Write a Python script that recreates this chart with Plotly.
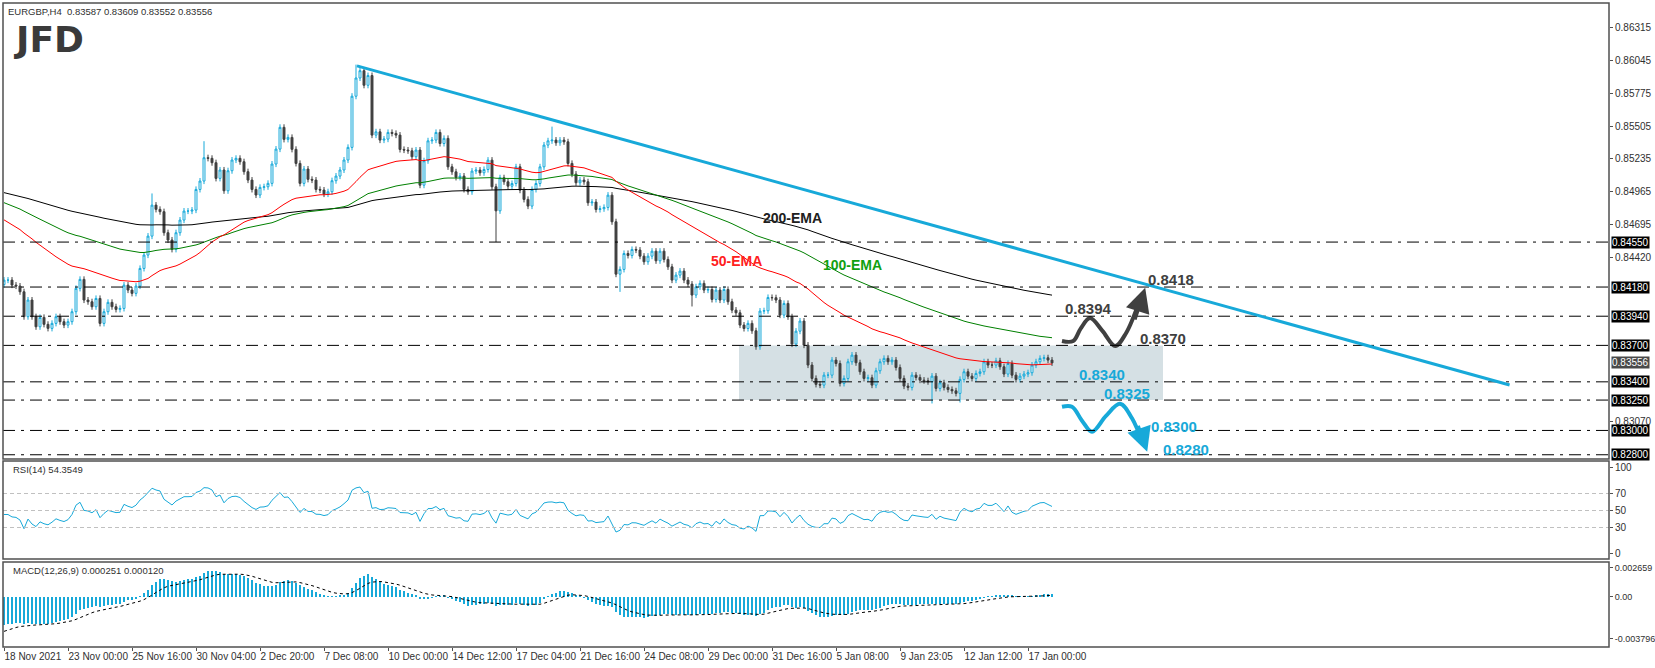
import plotly.graph_objects as go

# ---------------- data ----------------
closes = [
0.84237,0.84237,0.84196,0.84188,0.84141,0.83936,0.84073,0.83936,0.83853,0.83930,
0.83873,0.83840,0.83881,0.83936,0.83895,0.83867,0.83895,0.83977,0.84169,0.84243,
0.84073,0.84059,0.84018,0.84086,0.83881,0.83977,0.84054,0.84018,0.83996,0.84004,
0.84196,0.84155,0.84128,0.84188,0.84333,0.84443,0.84599,0.84854,0.84819,0.84800,
0.84627,0.84567,0.84490,0.84627,0.84731,0.84805,0.84805,0.84813,0.84983,0.85052,
0.85244,0.85239,0.85203,0.85074,0.85143,0.84972,0.85137,0.85225,0.85239,0.85211,
0.85129,0.85060,0.84983,0.84937,0.85000,0.85005,0.85033,0.85192,0.85315,0.85494,
0.85395,0.85411,0.85313,0.85197,0.85033,0.85151,0.85066,0.85060,0.84983,0.84978,
0.84945,0.84964,0.85055,0.85093,0.85143,0.85225,0.85329,0.85750,0.85900,0.85960,
0.85840,0.85920,0.85430,
0.85457,0.85389,0.85397,0.85452,0.85444,0.85430,0.85312,0.85307,0.85301,0.85252,
0.85307,0.85018,0.85219,0.85383,0.85389,0.85452,0.85361,0.85403,0.85169,0.85128,
0.85082,0.85093,0.84983,0.84964,0.85134,0.85142,0.85120,0.85147,0.85224,0.85005,
0.84807,0.85079,0.85046,0.85010,0.85032,0.85169,0.84977,0.84901,0.84846,0.84983,
0.85032,0.85169,0.85348,0.85383,0.85389,0.85367,0.85389,0.85375,0.85197,0.85109,
0.85038,0.85060,0.85046,0.84873,0.84879,0.84818,0.84824,0.84835,0.84936,0.84717,
0.84286,0.84325,0.84456,0.84440,0.84489,0.84484,0.84434,0.84388,0.84434,0.84475,
0.84396,0.84475,0.84407,0.84346,0.84237,0.84278,0.84311,0.84237,0.84204,
0.84114,0.84182,0.84210,0.84155,0.84160,0.84078,0.84155,0.84073,0.84160,0.84059,
0.83990,0.83968,0.83867,0.83839,0.83881,0.83820,0.83689,0.83982,0.83985,0.84094,
0.84092,0.84073,0.83949,0.84045,0.83935,0.83711,0.83817,0.83900,0.83702,0.83538,
0.83428,0.83379,0.83373,0.83455,0.83455,0.83579,0.83551,0.83387,0.83428,0.83565,
0.83620,0.83557,0.83483,0.83428,0.83434,0.83373,0.83491,0.83565,0.83593,0.83565,
0.83579,0.83518,0.83428,0.83365,0.83354,0.83455,0.83436,0.83414,0.83409,0.83401,
0.83447,0.83346,0.83392,0.83354,0.83337,0.83326,0.83305,0.83420,0.83483,0.83447,
0.83428,0.83469,0.83483,0.83565,0.83538,0.83538,0.83573,0.83524,0.83464,0.83551,
0.83455,0.83420,0.83447,0.83464,0.83475,0.83538,0.83565,0.83593,0.83598,0.83579,
0.83556]
first_open = 0.84200
wick = 0.00025
high_spikes = {37: 0.84950, 50: 0.85380, 88: 0.86010, 137: 0.85500}
low_spikes = {123: 0.84550, 154: 0.84140, 172: 0.84020, 232: 0.83222, 239: 0.83230}

ema_seeds = {"200": 0.84964, "100": 0.84887, "50": 0.84753}
macd_seeds = {"ema12": 0.84420, "ema26": 0.84680, "signal": -0.00330}
rsi_seeds = {"gain": 0.00022, "loss": 0.00030}

levels = [0.84550, 0.84180, 0.83940, 0.83700, 0.83400, 0.83250, 0.83000, 0.82800]
level_labels = ["0.84550", "0.84180", "0.83940", "0.83700", "0.83400", "0.83250", "0.83000", "0.82800"]
price_ticks = [0.86315, 0.86045, 0.85775, 0.85505, 0.85235, 0.84965, 0.84695, 0.84420, 0.83070]
last_price = 0.83556
header_ohlc = [0.83587, 0.83609, 0.83552, 0.83556]
x_labels = ["18 Nov 2021", "23 Nov 00:00", "25 Nov 16:00", "30 Nov 04:00", "2 Dec 20:00",
            "7 Dec 08:00", "10 Dec 00:00", "14 Dec 12:00", "17 Dec 04:00", "21 Dec 16:00",
            "24 Dec 08:00", "29 Dec 00:00", "31 Dec 16:00", "5 Jan 08:00", "9 Jan 23:05",
            "12 Jan 12:00", "17 Jan 00:00"]
trend_start = (88.25, 0.86000)
trend_end = (376.4, 0.83374)
zone = (183.75, 289.75, 0.83250, 0.83700)

# ---------------- derived ----------------
n = len(closes)
xs = list(range(n))
opens = [first_open] + closes[:-1]
highs = [high_spikes.get(i, max(o, c) + wick) for i, (o, c) in enumerate(zip(opens, closes))]
lows = [low_spikes.get(i, min(o, c) - wick) for i, (o, c) in enumerate(zip(opens, closes))]

def ema(vals, period, seed):
    k = 2 / (period + 1)
    out, e = [], seed
    for v in vals:
        e = e + k * (v - e)
        out.append(e)
    return out

e200 = ema(closes, 200, ema_seeds["200"])
e100 = ema(closes, 100, ema_seeds["100"])
e50 = ema(closes, 50, ema_seeds["50"])
m12 = ema(closes, 12, macd_seeds["ema12"])
m26 = ema(closes, 26, macd_seeds["ema26"])
macd = [a - b for a, b in zip(m12, m26)]
sig = ema(macd, 9, macd_seeds["signal"])

rsi = []
ag, al = rsi_seeds["gain"], rsi_seeds["loss"]
prev = first_open
for c in closes:
    d = c - prev
    ag = (ag * 13 + max(d, 0)) / 14
    al = (al * 13 + max(-d, 0)) / 14
    rsi.append(100 - 100 / (1 + ag / al) if al > 0 else 100)
    prev = c

CY = "#17a9d9"
DK = "#404040"
FONT = "Liberation Sans"

fig = go.Figure()
fig.add_trace(go.Candlestick(
    x=xs, open=opens, high=highs, low=lows, close=closes,
    increasing=dict(line=dict(color=CY, width=1), fillcolor="white"),
    decreasing=dict(line=dict(color=DK, width=1), fillcolor=DK),
    whiskerwidth=0, showlegend=False, hoverinfo="skip"))
for vals, col in [(e200, "black"), (e100, "#008000"), (e50, "#ff0000")]:
    fig.add_trace(go.Scatter(x=xs, y=vals, mode="lines", line=dict(color=col, width=1),
                             showlegend=False, hoverinfo="skip"))

fig.add_trace(go.Scatter(x=xs, y=rsi, mode="lines", line=dict(color=CY, width=1),
                         yaxis="y2", showlegend=False, hoverinfo="skip"))
fig.add_trace(go.Bar(x=xs, y=macd, marker=dict(color=CY, line=dict(width=0)), width=0.3,
                     yaxis="y3", showlegend=False, hoverinfo="skip"))
fig.add_trace(go.Scatter(x=xs, y=sig, mode="lines", line=dict(color="black", width=1, dash="dot"),
                         yaxis="y3", showlegend=False, hoverinfo="skip"))

bx = [264.5, 267.3, 269.2, 271.5, 274.6, 277.8, 280.5, 283.8]
by = [0.83736, 0.83736, 0.83840, 0.83925, 0.83820, 0.83695, 0.83800, 0.84060]
cx = [264.5, 267.0, 269.5, 272.0, 275.5, 279.0, 282.0, 284.6]
cy = [0.83195, 0.83195, 0.83080, 0.82989, 0.83120, 0.83219, 0.83100, 0.82900]
fig.add_trace(go.Scatter(x=bx, y=by, mode="lines", line=dict(color=DK, width=4, shape="spline"),
                         showlegend=False, hoverinfo="skip"))
fig.add_trace(go.Scatter(x=cx, y=cy, mode="lines", line=dict(color=CY, width=4, shape="spline"),
                         showlegend=False, hoverinfo="skip"))

shapes = []
shapes.append(dict(type="rect", xref="x", yref="y", x0=zone[0], x1=zone[1], y0=zone[2], y1=zone[3],
                   fillcolor="#d5e0e4", line=dict(width=0), layer="below"))
for lv in levels:
    shapes.append(dict(type="line", xref="x domain", yref="y", x0=0, x1=1, y0=lv, y1=lv,
                       line=dict(color="black", width=1, dash="12px,6px,3px,6px")))
for lv in [70, 50, 30]:
    shapes.append(dict(type="line", xref="x domain", yref="y2", x0=0, x1=1, y0=lv, y1=lv,
                       line=dict(color="#c0c0c0", width=1, dash="4px,3px")))
shapes.append(dict(type="line", xref="x", yref="y", x0=trend_start[0], y0=trend_start[1],
                   x1=trend_end[0], y1=trend_end[1], line=dict(color=CY, width=3)))
for ax in ["y", "y2", "y3"]:
    shapes.append(dict(type="rect", xref="x domain", yref=ax + " domain", x0=0, x1=1, y0=0, y1=1,
                       line=dict(color="#505050", width=1.5)))

ann = []
def lab(x, y, t, col, size=15):
    ann.append(dict(x=x, y=y, xref="x", yref="y", text="<b>%s</b>" % t, showarrow=False,
                    font=dict(family=FONT, size=size, color=col)))
lab(197, 0.84748, "200-EMA", "#202020", 14)
lab(183, 0.84394, "50-EMA", "#ff2020", 14)
lab(212, 0.84361, "100-EMA", "#10a010", 14)
lab(291.8, 0.84238, "0.8418", "#404040")
lab(271, 0.84000, "0.8394", "#404040")
lab(289.8, 0.83753, "0.8370", "#404040")
lab(274.5, 0.83464, "0.8340", CY)
lab(280.8, 0.83308, "0.8325", CY)
lab(292.5, 0.83036, "0.8300", CY)
lab(295.5, 0.82847, "0.8280", CY)
ann.append(dict(x=285.3, y=0.84175, ax=282.6, ay=0.83900, xref="x", yref="y", axref="x", ayref="y",
                text="", showarrow=True, arrowhead=2, arrowsize=1.4, arrowwidth=3.5, arrowcolor=DK))
ann.append(dict(x=285.8, y=0.82824, ax=283.4, ay=0.83050, xref="x", yref="y", axref="x", ayref="y",
                text="", showarrow=True, arrowhead=2, arrowsize=1.4, arrowwidth=3.5, arrowcolor=CY))
for lv, t in zip(levels, level_labels):
    ann.append(dict(x=1, y=lv, xref="paper", yref="y", xanchor="left", xshift=2, text=t,
                    showarrow=False, bgcolor="black", borderpad=0,
                    font=dict(family=FONT, size=10, color="white")))
ann.append(dict(x=1, y=last_price, xref="paper", yref="y", xanchor="left", xshift=2, text="%.5f" % last_price,
                showarrow=False, bgcolor="#4a4a4a", borderpad=0, font=dict(family=FONT, size=10, color="white")))
ann.append(dict(x=0.002, y=0.998, xref="paper", yref="paper", xanchor="left", yanchor="top",
                text="EURGBP,H4  " + " ".join("%.5f" % v for v in header_ohlc),
                showarrow=False, font=dict(family=FONT, size=9.5, color="#303030")))
ann.append(dict(x=0.005, y=0.978, xref="paper", yref="paper", xanchor="left", yanchor="top",
                text="<b>JFD</b>", showarrow=False, font=dict(family="DejaVu Sans", size=36, color="#3a3a3a")))
ann.append(dict(x=0.005, y=0.2875, xref="paper", yref="paper", xanchor="left", yanchor="top",
                text="RSI(14) %.4f" % 54.3549, showarrow=False, font=dict(family=FONT, size=9.5, color="#303030")))
ann.append(dict(x=0.005, y=0.131, xref="paper", yref="paper", xanchor="left", yanchor="top",
                text="MACD(12,26,9) 0.000251 0.000120", showarrow=False, font=dict(family=FONT, size=9.5, color="#303030")))

axfont = dict(family=FONT, size=10, color="#303030")
fig.update_layout(
    width=1655, height=668, paper_bgcolor="white", plot_bgcolor="white",
    margin=dict(l=3, r=46, t=3, b=21, autoexpand=False), shapes=shapes, annotations=ann, bargap=0,
    xaxis=dict(range=[-0.25, 401.25], anchor="y3", showgrid=False, zeroline=False,
               tickvals=[16 * i for i in range(len(x_labels))], ticktext=x_labels, tickangle=0,
               ticks="outside", ticklen=3, tickcolor="#505050", ticklabelposition="outside right",
               tickfont=axfont, rangeslider=dict(visible=False)),
    yaxis=dict(domain=[0.2919, 1], range=[0.82765, 0.86517], side="right", showgrid=False,
               zeroline=False, tickvals=price_ticks, ticktext=["%.5f" % v for v in price_ticks],
               ticks="outside", ticklen=3, tickfont=axfont, tickcolor="#505050"),
    yaxis2=dict(domain=[0.1366, 0.2888], range=[-7.06, 108.2], side="right", showgrid=False,
                zeroline=False, tickvals=[100, 70, 50, 30, 0], ticks="outside", ticklen=3,
                tickfont=axfont, tickcolor="#505050"),
    yaxis3=dict(domain=[0, 0.1320], range=[-0.004585, 0.003209], side="right", showgrid=False,
                zeroline=False, tickvals=[0.002659, 0.0, -0.003796],
                ticktext=["0.002659", "0.00", "-0.003796"], ticks="outside", ticklen=3,
                tickfont=dict(family=FONT, size=9, color="#303030"), tickcolor="#505050"),
)
fig.write_html("out.html", config={"displayModeBar": False},
               post_script="document.body.style.margin='0px';document.body.style.overflow='hidden';")
